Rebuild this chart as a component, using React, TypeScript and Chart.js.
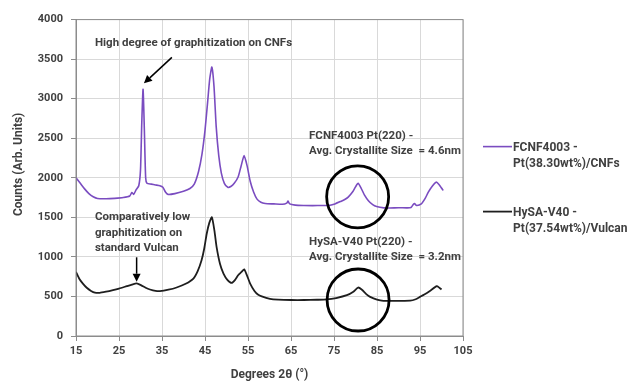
import React, { useEffect, useRef } from "react";
import { Chart, registerables } from "chart.js";

Chart.register(...registerables);

// ---- data ----
const fcnfAngles = [
  15.0, 16.0, 17.0, 18.0, 19.0, 20.0, 22.0, 24.0, 26.0, 27.5, 28.0, 28.4, 29.0, 29.6, 30.0, 30.3, 30.6, 30.9, 31.2, 31.5,
  32.5, 33.5, 34.5, 35.2, 35.8, 36.4, 38.0, 40.0, 41.5, 42.5, 43.5, 44.3, 45.0, 45.6, 46.1, 46.6, 47.1, 47.6, 48.2, 48.8,
  49.5, 50.3, 51.0, 51.8, 52.7, 53.4, 54.1, 54.8, 55.5, 56.3, 57.1, 58.0, 59.0, 61.0, 63.0, 64.0, 64.3, 64.7, 66.0, 68.0,
  70.0, 72.0, 73.7, 75.2, 76.5, 77.5, 78.3, 79.3, 80.0, 80.6, 81.3, 82.1, 83.0, 84.0, 84.9, 86.6, 88.0, 90.0, 92.0, 92.9,
  93.4, 93.7, 94.2, 95.3, 96.2, 96.9, 97.8, 98.8, 99.5, 100.0, 100.4,
];
const fcnfCounts = [
  2000, 1930, 1860, 1800, 1760, 1738, 1735, 1740, 1750, 1770, 1815, 1790, 1850, 1900, 2100, 2700, 3120, 2600, 2000, 1930,
  1920, 1910, 1900, 1880, 1820, 1790, 1800, 1830, 1865, 1920, 2080, 2300, 2600, 2950, 3250, 3400, 3150, 2650, 2280, 2060,
  1930, 1880, 1890, 1930, 2010, 2150, 2280, 2150, 1960, 1820, 1730, 1690, 1675, 1670, 1665, 1680, 1705, 1670, 1655, 1650,
  1648, 1650, 1650, 1670, 1700, 1725, 1755, 1820, 1885, 1930, 1870, 1780, 1710, 1660, 1637, 1620, 1618, 1622, 1620, 1625,
  1660, 1675, 1650, 1670, 1740, 1815, 1890, 1945, 1910, 1870, 1840,
];
const hysaAngles = [
  15.0, 15.8, 16.6, 17.5, 18.5, 19.4, 20.5, 22.0, 23.6, 25.0, 26.8, 28.0, 29.1, 30.2, 31.2, 32.2, 33.5, 34.5, 36.5, 38.4,
  40.5, 42.3, 43.3, 44.2, 44.8, 45.4, 46.0, 46.6, 47.2, 47.7, 48.5, 49.3, 50.2, 51.2, 52.0, 52.7, 53.5, 54.1, 54.8, 55.5,
  56.5, 57.3, 58.2, 60.1, 62.0, 65.0, 68.0, 71.0, 73.3, 75.5, 78.0, 79.5, 80.6, 81.5, 82.5, 83.4, 85.0, 86.5, 89.0, 92.7,
  94.0, 95.0, 96.0, 97.3, 98.9, 99.5, 100.0,
];
const hysaCounts = [
  810, 720, 663, 610, 570, 548, 545, 560, 580, 600, 630, 650, 665, 640, 610, 588, 570, 567, 585, 613,
  660, 726, 820, 957, 1100, 1293, 1430, 1502, 1330, 1124, 910, 789, 710, 671, 710, 768, 810, 843, 760, 663,
  570, 525, 500, 470, 460, 455, 455, 458, 462, 480, 516, 560, 613, 585, 530, 495, 460, 445, 443, 447,
  465, 495, 525, 570, 630, 610, 588,
];
const seriesNames = [
  ["FCNF4003 -", "Pt(38.30wt%)/CNFs"],
  ["HySA-V40 -", "Pt(37.54wt%)/Vulcan"],
];
const seriesColors = ["#7a4cc0", "#1e1e1e"];
const xTitle = "Degrees 2θ (°)";
const yTitle = "Counts (Arb. Units)";

const noteLines = [
  ["High degree of graphitization on CNFs"],
  ["FCNF4003 Pt(220) -", "Avg. Crystallite Size  = 4.6nm"],
  ["HySA-V40 Pt(220) -", "Avg. Crystallite Size  = 3.2nm"],
  ["Comparatively low", "graphitization on", "standard Vulcan"],
];
const noteX = [19.4, 69.2, 69.2, 19.4];
const noteY = [3704, 2532, 1188, 1500];
const arrowFrom = [[37.3, 3523], [29.1, 995]];
const arrowTo = [[30.8, 3194], [29.1, 686]];
const circleCenters = [[80.5, 1760], [80.6, 455]];

const FONT = "Roboto";
const TEXT = "#404040";

const overlay = {
  id: "overlay",
  afterDatasetsDraw(chart: any) {
    const { ctx, chartArea: a, scales } = chart;
    const xs = scales.x;
    const ys = scales.y;
    ctx.save();
    // plot frame
    ctx.strokeStyle = "#8c8c8c";
    ctx.lineWidth = 1;
    ctx.strokeRect(a.left, a.top, a.right - a.left, a.bottom - a.top);

    // circles
    ctx.strokeStyle = "#000";
    ctx.lineWidth = 2.8;
    circleCenters.forEach(([cx, cy]) => {
      ctx.beginPath();
      ctx.arc(xs.getPixelForValue(cx), ys.getPixelForValue(cy), 31, 0, Math.PI * 2);
      ctx.stroke();
    });

    // arrows
    ctx.lineWidth = 1.5;
    ctx.fillStyle = "#000";
    arrowFrom.forEach((f, i) => {
      const x1 = xs.getPixelForValue(f[0]);
      const y1 = ys.getPixelForValue(f[1]);
      const x2 = xs.getPixelForValue(arrowTo[i][0]);
      const y2 = ys.getPixelForValue(arrowTo[i][1]);
      const ang = Math.atan2(y2 - y1, x2 - x1);
      const hl = 8;
      const hw = 4;
      const bx = x2 - hl * Math.cos(ang);
      const by = y2 - hl * Math.sin(ang);
      ctx.beginPath();
      ctx.moveTo(x1, y1);
      ctx.lineTo(bx, by);
      ctx.stroke();
      ctx.beginPath();
      ctx.moveTo(x2, y2);
      ctx.lineTo(bx + hw * Math.sin(ang), by - hw * Math.cos(ang));
      ctx.lineTo(bx - hw * Math.sin(ang), by + hw * Math.cos(ang));
      ctx.closePath();
      ctx.fill();
    });

    // notes
    ctx.fillStyle = TEXT;
    ctx.font = `bold 11.5px ${FONT}`;
    ctx.textAlign = "left";
    ctx.textBaseline = "middle";
    noteLines.forEach((lines, i) => {
      const x = xs.getPixelForValue(noteX[i]);
      const y = ys.getPixelForValue(noteY[i]);
      lines.forEach((t, j) => ctx.fillText(t, x, y + j * 15.3));
    });

    // legend
    ctx.font = `bold 12px ${FONT}`;
    const lx = a.right + 20;
    const rows = [a.top + 127, a.top + 192];
    chart.data.datasets.forEach((ds: any, i: number) => {
      const y = rows[i];
      ctx.strokeStyle = ds.borderColor;
      ctx.lineWidth = ds.borderWidth;
      ctx.beginPath();
      ctx.moveTo(lx, y);
      ctx.lineTo(lx + 29, y);
      ctx.stroke();
      ctx.fillStyle = TEXT;
      seriesNames[i].forEach((t, j) => ctx.fillText(t, lx + 30, y + 1 + j * 16));
    });
    ctx.restore();
  },
};

export default function App() {
  const ref = useRef<HTMLCanvasElement | null>(null);
  useEffect(() => {
    if (!ref.current) return;
    const tickFont = { family: FONT, size: 11, weight: "bold" as const };
    const titleFont = { family: FONT, size: 12, weight: "bold" as const };
    const chart = new Chart(ref.current, {
      type: "line",
      data: {
        datasets: [
          {
            label: seriesNames[0].join(" "),
            data: fcnfAngles.map((x, i) => ({ x, y: fcnfCounts[i] })),
            borderColor: seriesColors[0],
            borderWidth: 1.6,
            pointRadius: 0,
            tension: 0.2,
            fill: false,
          },
          {
            label: seriesNames[1].join(" "),
            data: hysaAngles.map((x, i) => ({ x, y: hysaCounts[i] })),
            borderColor: seriesColors[1],
            borderWidth: 1.8,
            pointRadius: 0,
            tension: 0.2,
            fill: false,
          },
        ],
      },
      options: {
        responsive: false,
        animation: false,
        devicePixelRatio: 1,
        layout: { padding: { left: 0, right: 164, top: 19.6, bottom: 0 } },
        plugins: { legend: { display: false }, tooltip: { enabled: false } },
        scales: {
          x: {
            type: "linear",
            min: 15,
            max: 105,
            ticks: { stepSize: 10, font: tickFont, color: TEXT, padding: 4, callback: (v: any) => String(v) },
            grid: { color: "#d9d9d9", tickColor: "#8c8c8c", tickLength: 5 },
            border: { color: "#8c8c8c" },
            title: { display: true, text: xTitle, font: titleFont, color: TEXT, padding: { top: 4, bottom: 0 } },
            afterFit: (s: any) => {
              s.height = 46;
            },
          },
          y: {
            min: 0,
            max: 4000,
            ticks: { stepSize: 500, font: tickFont, color: TEXT, padding: 8, callback: (v: any) => String(v) },
            grid: { color: "#d9d9d9", tickColor: "#8c8c8c", tickLength: 5 },
            border: { color: "#8c8c8c" },
            title: {
              display: true,
              text: "         " + yTitle,
              font: titleFont,
              color: TEXT,
              padding: { top: 12, bottom: 4 },
            },
            afterFit: (s: any) => {
              s.width = 76;
            },
          },
        },
      },
      plugins: [overlay],
    });
    return () => chart.destroy();
  }, []);
  return (
    <div style={{ position: "absolute", left: 0, top: 0, width: 627, height: 382, background: "#fff" }}>
      <canvas ref={ref} width={627} height={382} />
    </div>
  );
}
